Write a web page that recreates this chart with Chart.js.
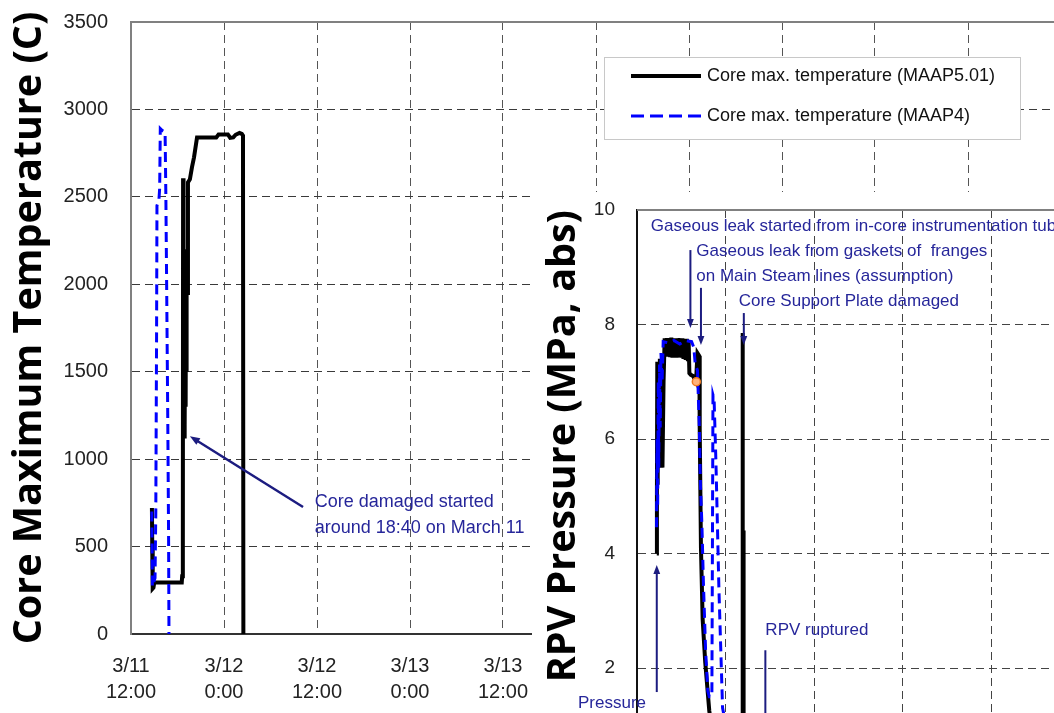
<!DOCTYPE html>
<html lang="en">
<head>
<meta charset="UTF-8">
<title>Core Maximum Temperature and RPV Pressure</title>
<script src="https://cdn.jsdelivr.net/npm/chart.js"></script>
<style>
    body {
        margin: 0;
        background: #fff;
        width: 1054px;
        height: 713px;
        overflow: hidden;
        position: relative;
    }
    #tempChart {
        position: absolute;
        left: 0;
        top: 0;
    }
    /* the pressure chart is pasted over the lower right of the temperature chart */
    #pressChart {
        position: absolute;
        left: 532px;
        top: 192px;
        background: #fff;
    }
</style>
</head>
<body>
<canvas id="tempChart" width="1200" height="713"></canvas>
<canvas id="pressChart" width="600" height="640"></canvas>

<script>
// Hours after 3/11 12:00
const timeTickLabels = [
    ['3/11', '12:00'], ['3/12', '0:00'], ['3/12', '12:00'], ['3/13', '0:00'],
    ['3/13', '12:00'], ['3/14', '0:00'], ['3/14', '12:00'], ['3/15', '0:00'],
    ['3/15', '12:00'], ['3/16', '0:00'], ['3/16', '12:00'], ['3/17', '0:00']
];

// Core max. temperature (C), MAAP5.01
const tempHours5 = [2.70, 2.74, 2.80, 2.90, 3.00, 6.55, 6.60, 6.68, 6.70, 6.72, 6.78, 6.85, 6.90, 6.95, 7.00, 7.05, 7.10, 7.15, 7.20, 7.30, 7.35, 7.60, 7.87, 8.13, 8.52, 11.0, 11.3, 12.5, 12.8, 13.2, 13.5, 14.0, 14.3, 14.45, 14.5];
const temp5 = [720, 500, 260, 265, 295, 295, 330, 360, 540, 2606, 1150, 1130, 1800, 1200, 2000, 1300, 2150, 1500, 2200, 1950, 2583, 2600, 2670, 2726, 2840, 2840, 2857, 2857, 2838, 2840, 2855, 2865, 2860, 2850, 0];

// Core max. temperature (C), MAAP4
const tempHours4 = [2.68, 2.72, 2.76, 2.90, 3.10, 3.20, 3.25, 3.30, 3.35, 3.60, 3.70, 3.78, 4.00, 4.40, 4.50, 4.60, 4.75, 4.85, 4.90];
const temp4 = [700, 500, 270, 290, 320, 700, 1200, 1700, 2450, 2480, 2550, 2890, 2880, 2870, 2500, 2000, 1200, 560, 0];

// RPV pressure (MPa, abs), MAAP5.01
const pressHours5 = [2.68, 2.70, 2.75, 2.80, 2.85, 2.90, 2.95, 3.00, 3.10, 3.20, 3.30, 3.45, 3.60, 3.75,
    3.90, 4.05, 4.20, 4.35, 4.50, 4.65, 4.80, 4.95, 5.10, 5.25, 5.40, 5.55, 5.70, 5.85, 6.00, 6.15, 6.30, 6.45, 6.60, 6.75, 6.90,
    7.00, 7.10, 7.30, 7.60, 7.80, 8.00, 8.20, 8.45, 8.50, 8.67, 8.90, 9.25, 9.80, 10.3, 11.0, 14.25, 14.30, 14.33, 14.36, 14.40, 14.45, 20.0, 66.0];
const press5 = [4.0, 5.0, 7.35, 5.2, 7.3, 5.5, 7.2, 5.8, 7.4, 6.0, 7.3, 5.5, 7.0, 7.76,
    7.45, 7.76, 7.44, 7.76, 7.43, 7.77, 7.42, 7.76, 7.42, 7.76, 7.42, 7.76, 7.43, 7.76, 7.42, 7.76, 7.40, 7.75, 7.38, 7.75, 7.36,
    7.72, 7.15, 7.12, 7.1, 7.05, 7.0, 7.5, 7.45, 6.2, 4.1, 2.85, 2.1, 1.25, 0.8, 0.6, 0.6, 7.85, 4.5, 1.0, 4.4, 0.6, 0.5, 0.4];

// RPV pressure (MPa, abs), MAAP4
const pressHours4 = [2.65, 2.72, 2.80, 2.88, 2.95, 3.05, 3.15, 3.25, 3.40, 3.55, 4.20, 5.00, 5.80, 6.60, 7.40, 7.70, 7.90, 8.20, 8.45, 8.60, 8.80, 9.00, 9.30, 9.60, 9.80, 10.15, 10.30, 10.45, 10.70, 11.10, 11.60, 12.50, 66.0];
const press4 = [4.46, 6.0, 4.8, 7.0, 5.5, 7.3, 6.2, 7.5, 7.0, 7.7, 7.68, 7.72, 7.66, 7.72, 7.7, 7.6, 7.3, 7.2, 6.2, 5.2, 4.5, 3.5, 2.3, 1.6, 1.5, 1.5, 6.77, 6.7, 5.6, 3.4, 1.3, 0.7, 0.5];

// measured point
const pressDotHours = [8.04];
const pressDot = [7.0];

const toPoints = (xs, ys) => xs.map((x, i) => ({ x: x, y: ys[i] }));

const TICK_FONT = { family: '"Liberation Sans", Arial, sans-serif', size: 20 };
const TITLE_FONT = { family: '"Open Sans", sans-serif', size: 39.5, weight: 'bold' };
const NOTE_FONT = '17px "Liberation Sans", Arial, sans-serif';
const NOTE_COLOR = '#26269a';
const ARROW_COLOR = '#1c1c80';

function drawArrow(ctx, x1, y1, x2, y2, width, head) {
    const ang = Math.atan2(y2 - y1, x2 - x1);
    const c = Math.cos(ang), s = Math.sin(ang);
    ctx.save();
    ctx.strokeStyle = ARROW_COLOR;
    ctx.fillStyle = ARROW_COLOR;
    ctx.lineWidth = width;
    ctx.beginPath();
    ctx.moveTo(x1, y1);
    ctx.lineTo(x2 - c * head * 0.7, y2 - s * head * 0.7);
    ctx.stroke();
    ctx.beginPath();
    ctx.moveTo(x2, y2);
    ctx.lineTo(x2 - head * c + head * 0.38 * s, y2 - head * s - head * 0.38 * c);
    ctx.lineTo(x2 - head * c - head * 0.38 * s, y2 - head * s + head * 0.38 * c);
    ctx.closePath();
    ctx.fill();
    ctx.restore();
}

function noteText(ctx, text, x, y, align) {
    ctx.save();
    ctx.font = NOTE_FONT;
    ctx.fillStyle = NOTE_COLOR;
    ctx.textAlign = align || 'left';
    ctx.textBaseline = 'middle';
    ctx.fillText(text, x, y);
    ctx.restore();
}

// keep only the 12 hour ticks
function twelveHourTicks(scale) {
    scale.ticks = scale.ticks.filter(t => Math.abs(t.value % 12) < 1e-6);
}

// fixed axis width, and no extra room asked for the end labels
function fixWidth(w) {
    return s => {
        s.width = w;
        s.paddingTop = 0;
        s.paddingBottom = 0;
    };
}

// gray frame line along the top of the plot
const topBorder = {
    id: 'topBorder',
    afterDraw(chart) {
        const { ctx, chartArea } = chart;
        ctx.save();
        ctx.strokeStyle = '#808080';
        ctx.lineWidth = 2;
        ctx.beginPath();
        ctx.moveTo(chartArea.left, chartArea.top);
        ctx.lineTo(chartArea.right, chartArea.top);
        ctx.stroke();
        ctx.restore();
    }
};

// ---------------- temperature chart ----------------
const tempNotes = {
    id: 'tempNotes',
    afterDraw(chart) {
        const { ctx, scales: { x, y } } = chart;
        drawArrow(ctx, x.getPixelForValue(22.2), y.getPixelForValue(726),
            x.getPixelForValue(7.6), y.getPixelForValue(1131), 2.5, 10);
        ctx.save();
        ctx.font = '18px "Liberation Sans", Arial, sans-serif';
        ctx.fillStyle = NOTE_COLOR;
        ctx.textBaseline = 'middle';
        ctx.fillText('Core damaged started', x.getPixelForValue(23.7), y.getPixelForValue(752));
        ctx.fillText('around 18:40 on March 11', x.getPixelForValue(23.7), y.getPixelForValue(608));
        ctx.restore();

        // legend box
        const ds = chart.data.datasets;
        ctx.save();
        ctx.fillStyle = '#fff';
        ctx.strokeStyle = '#c8c8c8';
        ctx.lineWidth = 1;
        ctx.fillRect(604, 57, 416, 82);
        ctx.strokeRect(604.5, 57.5, 416, 82);
        [ds[1], ds[0]].forEach((d, i) => {
            const ly = 76 + i * 40;
            ctx.strokeStyle = d.borderColor;
            ctx.lineWidth = d.borderWidth;
            ctx.setLineDash(d.borderDash ? [13, 6] : []);
            ctx.beginPath();
            ctx.moveTo(631, ly);
            ctx.lineTo(701, ly);
            ctx.stroke();
            ctx.setLineDash([]);
            ctx.font = '18px "Liberation Sans", Arial, sans-serif';
            ctx.fillStyle = '#111';
            ctx.textBaseline = 'middle';
            ctx.fillText(d.label, 707, ly);
        });
        ctx.restore();
    }
};

new Chart(document.getElementById('tempChart'), {
    type: 'line',
    data: {
        datasets: [
            {
                label: 'Core max. temperature (MAAP4)',
                data: toPoints(tempHours4, temp4),
                borderColor: '#0000ff',
                borderWidth: 3,
                borderDash: [10, 6],
                pointRadius: 0,
                order: 0
            },
            {
                label: 'Core max. temperature (MAAP5.01)',
                data: toPoints(tempHours5, temp5),
                borderColor: '#000',
                borderWidth: 4,
                pointRadius: 0,
                order: 1
            }
        ]
    },
    options: {
        responsive: false,
        animation: false,
        layout: { padding: { top: 22, left: 0, right: 0, bottom: 0 } },
        plugins: { legend: { display: false }, tooltip: { enabled: false } },
        scales: {
            x: {
                type: 'linear',
                min: 0,
                max: 1069 / 7.75,
                afterBuildTicks: twelveHourTicks,
                afterFit: s => { s.height = 79; },
                ticks: {
                    stepSize: 12,
                    padding: 19,
                    color: '#222',
                    font: { ...TICK_FONT, lineHeight: 1.3 },
                    maxRotation: 0,
                    autoSkip: false,
                    callback: v => timeTickLabels[Math.round(v / 12)]
                },
                grid: { color: '#555', drawTicks: false },
                border: { color: '#333', width: 2, dash: [8, 5] }
            },
            y: {
                min: 0,
                max: 3500,
                afterFit: fixWidth(131),
                ticks: { stepSize: 500, padding: 23, color: '#222', font: TICK_FONT, callback: v => String(v) },
                grid: { color: '#3a3a3a', drawTicks: false },
                border: { color: '#808080', width: 2, dash: [8, 5] },
                title: {
                    display: true,
                    text: 'Core Maximum Temperature (C)',
                    color: '#000',
                    font: TITLE_FONT,
                    padding: { top: 6, bottom: 0 }
                }
            }
        }
    },
    plugins: [topBorder, tempNotes]
});

// ---------------- pressure chart ----------------
const pressNotes = {
    id: 'pressNotes',
    afterDraw(chart) {
        const { ctx, scales: { x, y } } = chart;
        const px = v => x.getPixelForValue(v);
        const py = v => y.getPixelForValue(v);

        noteText(ctx, 'Gaseous leak started from in-core instrumentation tube', px(1.88), py(9.72));
        noteText(ctx, 'Gaseous leak from gaskets of  franges', px(8.04), py(9.27));
        noteText(ctx, 'on Main Steam lines (assumption)', px(8.04), py(8.85));
        noteText(ctx, 'Core Support Plate damaged', px(13.8), py(8.41));
        noteText(ctx, 'RPV ruptured', px(17.4), py(2.65));
        noteText(ctx, 'Pressure', px(-8.0), py(1.38));

        drawArrow(ctx, px(7.24), py(9.30), px(7.24), py(7.94), 2, 9);
        drawArrow(ctx, px(8.67), py(8.64), px(8.67), py(7.64), 2, 9);
        drawArrow(ctx, px(14.48), py(8.20), px(14.48), py(7.64), 2, 9);
        drawArrow(ctx, px(2.68), py(1.58), px(2.68), py(3.80), 2, 9);
        drawArrow(ctx, px(17.4), py(2.31), px(17.4), py(0.3), 2, 9);
    }
};

new Chart(document.getElementById('pressChart'), {
    type: 'line',
    data: {
        datasets: [
            {
                label: 'Measured',
                data: toPoints(pressDotHours, pressDot),
                showLine: false,
                pointRadius: 4,
                pointBackgroundColor: '#ffb27a',
                pointBorderColor: '#f07a20',
                pointBorderWidth: 1.5,
                order: -1
            },
            {
                label: 'RPV pressure (MAAP4)',
                data: toPoints(pressHours4, press4),
                borderColor: '#0000ff',
                borderWidth: 3,
                borderDash: [10, 6],
                pointRadius: 0,
                order: 0
            },
            {
                label: 'RPV pressure (MAAP5.01)',
                data: toPoints(pressHours5, press5),
                borderColor: '#000',
                borderWidth: 4,
                pointRadius: 0,
                order: 1
            }
        ]
    },
    options: {
        responsive: false,
        animation: false,
        layout: { padding: { top: 18, left: 0, right: 0, bottom: 0 } },
        plugins: { legend: { display: false }, tooltip: { enabled: false } },
        scales: {
            x: {
                type: 'linear',
                min: 0,
                max: 495 / 7.46,
                afterBuildTicks: twelveHourTicks,
                afterFit: s => { s.height = 49.5; },
                ticks: { stepSize: 12, display: false },
                grid: { color: '#444', drawTicks: false },
                border: { color: '#222', width: 2, dash: [8, 5] }
            },
            y: {
                min: 0,
                max: 10,
                afterFit: fixWidth(105),
                ticks: { stepSize: 2, padding: 22, color: '#222', font: { ...TICK_FONT, size: 19 } },
                grid: { color: '#444', drawTicks: false },
                border: { color: '#111', width: 2, dash: [8, 5] },
                title: {
                    display: true,
                    text: 'RPV Pressure (MPa, abs)',
                    align: 'end',
                    color: '#000',
                    font: TITLE_FONT,
                    padding: { top: 8, bottom: 0 }
                }
            }
        }
    },
    plugins: [topBorder, pressNotes]
});
</script>
</body>
</html>
